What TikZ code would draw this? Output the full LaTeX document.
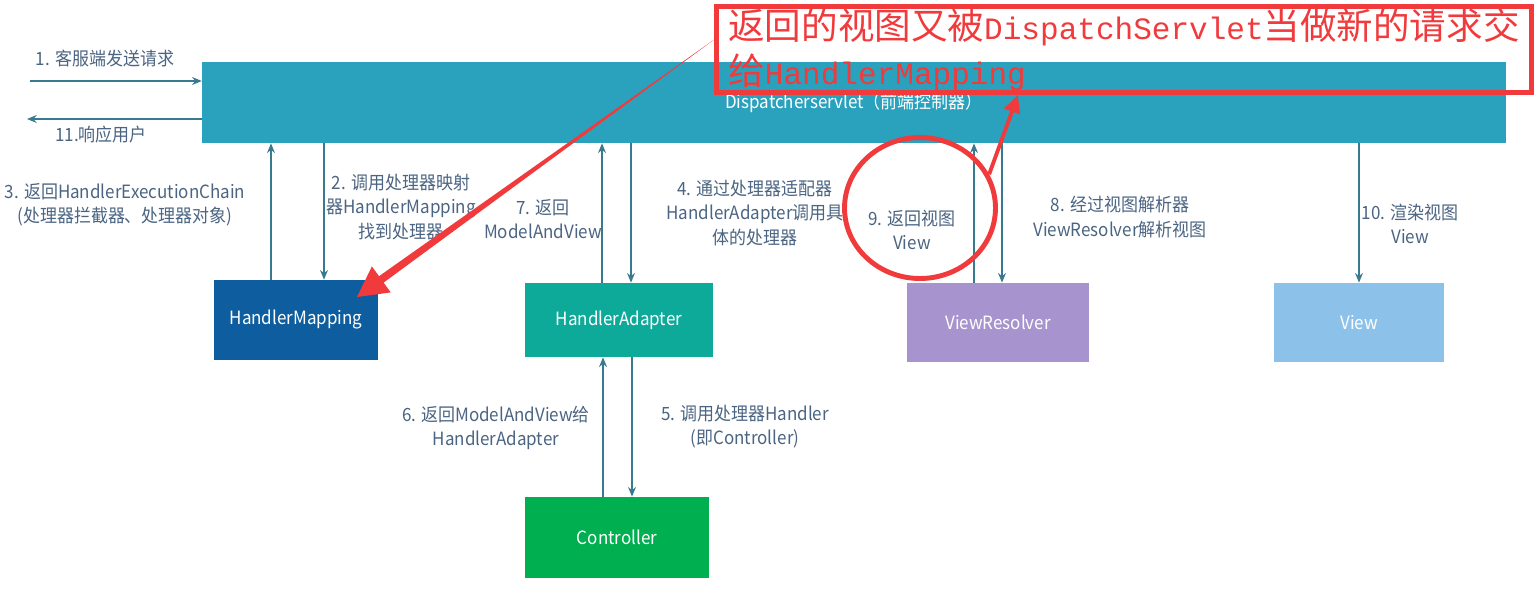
\documentclass[tikz,border=0pt]{standalone}
\usepackage{fontspec}
\setmainfont[FakeStretch=0.93]{Noto Sans CJK SC}
\newfontfamily\notecjk{Noto Sans CJK SC}
\newfontfamily\notemono[Scale=0.85]{Liberation Mono}
\usetikzlibrary{arrows.meta,shapes.geometric}
\definecolor{dsc}{HTML}{2AA2BE}
\definecolor{hmc}{HTML}{0E5E9F}
\definecolor{hac}{HTML}{0DAA9A}
\definecolor{ctc}{HTML}{00AF50}
\definecolor{vrc}{HTML}{A793CD}
\definecolor{vwc}{HTML}{8CC2EA}
\definecolor{arrowc}{HTML}{3A7A8E}
\definecolor{labc}{HTML}{4A6482}
\definecolor{notec}{HTML}{F03A3C}
\begin{document}
\begin{tikzpicture}[x=0.02cm,y=-0.02cm,
	flow/.style={draw=arrowc, line width=0.85pt, -{Stealth[length=5.5pt,width=4.5pt]}},
	lbl/.style={text=labc, align=center, inner sep=0pt, font=\fontsize{10.4}{13.8}\selectfont},
	box/.style={text=white, inner sep=0pt, font=\fontsize{10.4}{12}\selectfont},
	redline/.style={draw=notec, line width=2.8pt}]
	\useasboundingbox (0,0) rectangle (1538,613);
	\node[box, fill=dsc, minimum width=26.08cm, minimum height=1.62cm] (ds) at (854,102.5) {Dispatcherservlet（前端控制器）};
	\node[box, fill=hmc, minimum width=3.28cm, minimum height=1.6cm] (hm) at (296,320) {HandlerMapping};
	\node[box, fill=hac, minimum width=3.76cm, minimum height=1.48cm] (ha) at (619,320) {HandlerAdapter};
	\node[box, fill=ctc, minimum width=3.68cm, minimum height=1.62cm] (ctl) at (617,537.5) {Controller};
	\node[box, fill=vrc, minimum width=3.64cm, minimum height=1.58cm] (vr) at (998,322.5) {ViewResolver};
	\node[box, fill=vwc, minimum width=3.4cm, minimum height=1.58cm] (vw) at (1359,322.5) {View};
	\coordinate (client in) at (30,81);
	\coordinate (client out) at (27,119);
	\draw[flow] (client in) -- (client in -| ds.west);
	\draw[flow] (client out -| ds.west) -- (client out);
	\draw[flow] (271,0 |- hm.north) -- (271,0 |- ds.south);
	\draw[flow] (324,0 |- ds.south) -- (324,0 |- hm.north);
	\draw[flow] (602,0 |- ha.north) -- (602,0 |- ds.south);
	\draw[flow] (631,0 |- ds.south) -- (631,0 |- ha.north);
	\draw[flow] (603,0 |- ctl.north) -- (603,0 |- ha.south);
	\draw[flow] (632,0 |- ha.south) -- (632,0 |- ctl.north);
	\draw[flow] (974,0 |- vr.north) -- (974,0 |- ds.south);
	\draw[flow] (1002,0 |- ds.south) -- (1002,0 |- vr.north);
	\draw[flow] (1359,0 |- ds.south) -- (vw.north);
	\node[lbl] (l1) at (105,58) {1. 客服端发送请求};
	\node[lbl] (l11) at (101,135) {11.响应用户};
	\node[lbl] (l3) at (125,205) {3. 返回HandlerExecutionChain\\(处理器拦截器、处理器对象)};
	\node[lbl] (l2) at (401,207) {2. 调用处理器映射\\器HandlerMapping\\找到处理器};
	\node[lbl] (l7) at (543,219) {7. 返回\\ModelAndView};
	\node[lbl] (l4) at (755,213) {4. 通过处理器适配器\\HandlerAdapter调用具\\体的处理器};
	\node[lbl] (l9) at (912,230) {9. 返回视图\\View};
	\node[lbl] (l8) at (1120,217) {8. 经过视图解析器\\ViewResolver解析视图};
	\node[lbl] (l10) at (1410,224) {10. 渲染视图\\View};
	\node[lbl] (l6) at (496,428) {6. 返回ModelAndView给\\HandlerAdapter};
	\node[lbl] (l5) at (745,427) {5. 调用处理器Handler\\(即Controller)};
	\node[redline, minimum width=16.32cm, minimum height=1.72cm, inner sep=0pt, align=left, text=notec, font=\notecjk\fontsize{20.8}{25.5}\selectfont] (note) at (1124,49.5) {返回的视图又被{\notemono DispatchServlet}当做新的请求交\\给{\notemono HandlerMapping}};
	\node[redline, ellipse, minimum width=3.02cm, minimum height=2.82cm, inner sep=0pt] (ring) at (920,208) {};
	\fill[notec] (715,39) -- (379.0,276.2) -- (371.9,266.4) -- (357,297) -- (390.7,292.4) -- (383.6,282.6) -- cycle;
	\draw[notec, line width=2.2pt, -{Triangle[length=10pt,width=9pt]}] (ring.26) -- (1018,0 |- note.south);
\end{tikzpicture}
\end{document}
